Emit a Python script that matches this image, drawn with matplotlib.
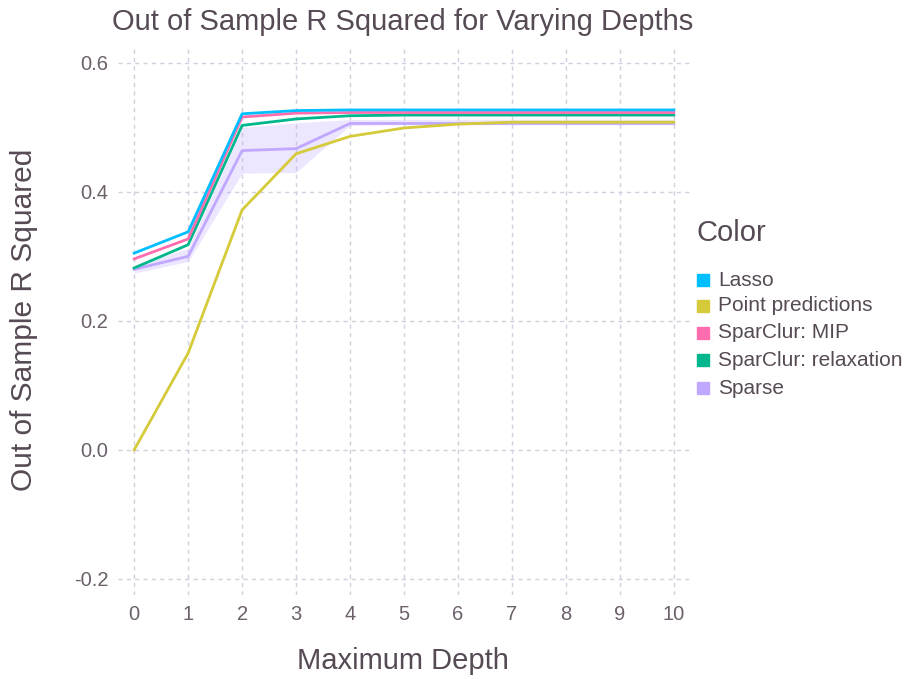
"""Out of sample R squared vs tree depth, redrawn in matplotlib."""

import matplotlib
matplotlib.use("Agg")
import matplotlib.pyplot as plt

depths = [0, 1, 2, 3, 4, 5, 6, 7, 8, 9, 10]

lasso = [0.305, 0.338, 0.521, 0.526, 0.527, 0.527, 0.527, 0.527, 0.527, 0.527, 0.527]
point_pred = [0.0, 0.150, 0.372, 0.459, 0.486, 0.499, 0.505, 0.508, 0.508, 0.508, 0.508]
mip = [0.296, 0.327, 0.516, 0.522, 0.523, 0.523, 0.523, 0.523, 0.523, 0.523, 0.523]
relax = [0.282, 0.318, 0.503, 0.513, 0.518, 0.519, 0.519, 0.519, 0.519, 0.519, 0.519]
sparse = [0.280, 0.300, 0.464, 0.467, 0.506, 0.506, 0.506, 0.506, 0.506, 0.506, 0.506]
sparse_lo = [0.274, 0.292, 0.429, 0.430, 0.503, 0.504, 0.504, 0.504, 0.504, 0.504, 0.504]
sparse_hi = [0.286, 0.312, 0.500, 0.507, 0.512, 0.512, 0.512, 0.512, 0.512, 0.512, 0.512]

names = ["Lasso", "Point predictions", "SparClur: MIP", "SparClur: relaxation", "Sparse"]
colors = ["#00BFFF", "#D4CA3A", "#FF6DAE", "#00B78D", "#C0A8FF"]

text_col = "#564A55"
tick_col = "#6C606B"
plt.rcParams["font.family"] = ["Liberation Sans", "DejaVu Sans"]

fig = plt.figure(figsize=(9.08, 6.79), dpi=100)
W, H = 908, 679
ax = fig.add_axes([118 / W, 1 - 595 / H, (690 - 118) / W, (595 - 48) / H])

ax.fill_between(depths, sparse_lo, sparse_hi, color=colors[4], alpha=0.28, lw=0)
series = [lasso, point_pred, mip, relax, sparse]
for vals, c in zip(series[::-1], colors[::-1]):
    ax.plot(depths, vals, color=c, lw=2)

ax.set_xlim(-0.3, 10.3)
ax.set_ylim(-0.225, 0.623)
ax.set_xticks(depths)
ax.set_yticks([-0.2, 0.0, 0.2, 0.4, 0.6])
ax.set_yticklabels(["-0.2", "0.0", "0.2", "0.4", "0.6"])
ax.grid(True, color="#D0D0E0", ls=(0, (3, 3)), lw=1)
ax.set_axisbelow(True)
for s in ax.spines.values():
    s.set_visible(False)
ax.tick_params(length=0, labelsize=14.5, colors=tick_col, pad=7)

fig.text(403 / W, 1 - 22 / H, "Out of Sample R Squared for Varying Depths",
         ha="center", va="center", fontsize=21, color=text_col)
fig.text(403 / W, 1 - 661 / H, "Maximum Depth", ha="center", va="center",
         fontsize=21, color=text_col)
fig.text(24 / W, 1 - 320 / H, "Out of Sample R Squared", ha="center", va="center",
         rotation=90, fontsize=21.5, color=text_col)

# legend
fig.text(697 / W, 1 - 233 / H, "Color", ha="left", va="center", fontsize=21, color=text_col)
ys = [280, 306, 333, 360, 388]
for name, c, y in zip(names, colors, ys):
    fig.patches.append(plt.Rectangle((697 / W, 1 - (y + 6) / H), 12 / W, 12 / H,
                                     transform=fig.transFigure, color=c))
    fig.text(718 / W, 1 - y / H, name, ha="left", va="center", fontsize=15, color=text_col)

fig.savefig("out.png", dpi=100)
